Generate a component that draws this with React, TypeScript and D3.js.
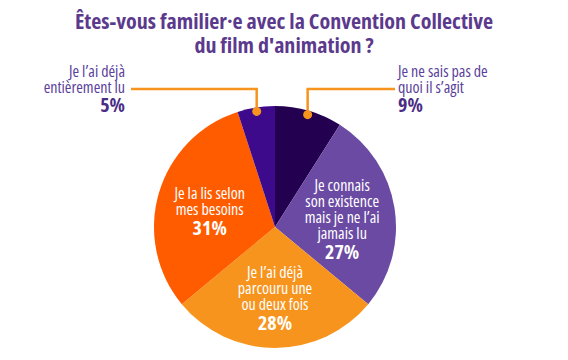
import React, { useEffect, useRef } from 'react';
import * as d3 from 'd3';

const titleLines = ['Êtes-vous familier·e avec la Convention Collective', "du film d'animation ?"];
const categories = [
  'Je ne sais pas de quoi il s’agit',
  'Je connais son existence mais je ne l’ai jamais lu',
  'Je l’ai déjà parcouru une ou deux fois',
  'Je la lis selon mes besoins',
  'Je l’ai déjà entièrement lu',
];
const values = [9, 27, 28, 31, 5];
const colors = ['#230050', '#6b4aa3', '#f7941d', '#ff5c00', '#3d0a8c'];
// wrapped lines of each label, and whether it sits outside the pie
const labelLines = [
  ['Je ne sais pas de', 'quoi il s’agit'],
  ['Je connais', 'son existence', 'mais je ne l’ai', 'jamais lu'],
  ['Je l’ai déjà', 'parcouru une', 'ou deux fois'],
  ['Je la lis selon', 'mes besoins'],
  ['Je l’ai déjà', 'entièrement lu'],
];
const outside = [true, false, false, false, true];

const FONT = "'Open Sans', 'Noto Sans', sans-serif";

const App: React.FC = () => {
  const svgRef = useRef<SVGSVGElement>(null);

  useEffect(() => {
    if (!svgRef.current) return;
    const width = 568;
    const cx = 275;
    const cy = 227;
    const r = 121;
    const lh = 16;

    const svg = d3.select(svgRef.current).html('');

    // Title
    svg.append('g')
      .selectAll('text')
      .data(titleLines)
      .join('text')
      .attr('x', width / 2)
      .attr('y', (_, i) => 29 + i * 24)
      .attr('text-anchor', 'middle')
      .attr('font-family', FONT)
      .attr('font-weight', 'bold')
      .attr('font-stretch', 'condensed')
      .attr('font-size', 22)
      .attr('fill', '#5b3a8d')
      .text(d => d);

    const pie = d3.pie<number>().sort(null).value(d => d);
    const arcs = pie(values);
    const arc = d3.arc<d3.PieArcDatum<number>>().innerRadius(0).outerRadius(r);
    const labelArc = d3.arc<d3.PieArcDatum<number>>().innerRadius(68).outerRadius(68);
    const edgeArc = d3.arc<d3.PieArcDatum<number>>().innerRadius(r - 4).outerRadius(r - 4);

    const g = svg.append('g').attr('transform', `translate(${cx},${cy})`);

    g.selectAll('path')
      .data(arcs)
      .join('path')
      .attr('d', arc)
      .attr('fill', (_, i) => colors[i]);

    // Inner labels
    arcs.forEach((a, i) => {
      if (outside[i]) return;
      const [lx, ly] = labelArc.centroid(a);
      const lines = labelLines[i];
      const block = 11 + (lines.length - 1) * lh + 20;
      const b0 = ly + 3 - block / 2 + 11;
      const t = g.append('g')
        .attr('font-family', FONT)
        .attr('font-stretch', 'condensed')
        .attr('fill', '#ffffff')
        .attr('text-anchor', 'middle');
      lines.forEach((l, j) => {
        t.append('text')
          .attr('x', lx)
          .attr('y', b0 + j * lh)
          .attr('font-size', 16)
          .attr('font-weight', 'normal')
          .text(l);
      });
      t.append('text')
        .attr('x', lx)
        .attr('y', b0 + (lines.length - 1) * lh + 20)
        .attr('font-size', 20)
        .attr('font-weight', 'bold')
        .text(`${values[i]}%`);
    });

    // Outside labels with leaders
    const leaderY = 89 - cy;
    arcs.forEach((a, i) => {
      if (!outside[i]) return;
      const [dx, dy] = edgeArc.centroid(a);
      const right = dx > 0;
      const endX = right ? 395 - cx : 131 - cx;
      g.append('path')
        .attr('d', `M${dx},${dy}V${leaderY}H${endX}`)
        .attr('fill', 'none')
        .attr('stroke', '#f7941d')
        .attr('stroke-width', 2.5);
      g.append('circle')
        .attr('cx', dx)
        .attr('cy', dy)
        .attr('r', 4.5)
        .attr('fill', '#f7941d');
      const tx = right ? 398 - cx : 125 - cx;
      const anchor = right ? 'start' : 'end';
      const t = g.append('g')
        .attr('font-family', FONT)
        .attr('font-stretch', 'condensed')
        .attr('text-anchor', anchor);
      labelLines[i].forEach((l, j) => {
        t.append('text')
          .attr('x', tx)
          .attr('y', 77 - cy + j * 15.5)
          .attr('font-size', 16)
          .attr('font-weight', 'normal')
          .attr('fill', '#5b3f9b')
          .text(l);
      });
      t.append('text')
        .attr('x', tx)
        .attr('y', 112 - cy)
        .attr('font-size', 20)
        .attr('font-weight', 'bold')
        .attr('fill', '#4b2c86')
        .text(`${values[i]}%`);
    });
  }, []);

  return (
    <svg
      ref={svgRef}
      width={568}
      height={360}
      style={{ position: 'absolute', left: 0, top: 0, background: '#ffffff' }}
    />
  );
};

export default App;
